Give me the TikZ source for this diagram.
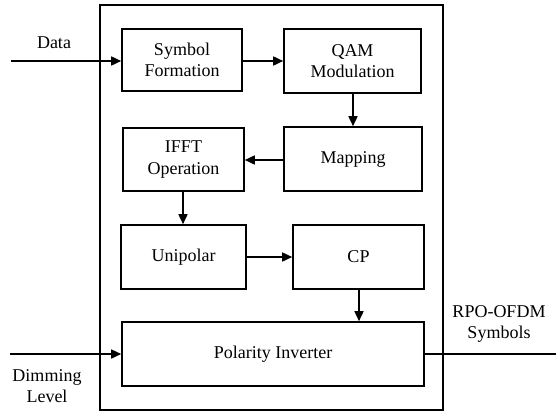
\documentclass[tikz,border=0pt]{standalone}
\usepackage{fontspec}
\setmainfont{Liberation Serif}
\usetikzlibrary{arrows.meta}
\begin{document}
\begin{tikzpicture}[x=1pt,y=-1pt,
  blk/.style={draw,line width=1.6pt,inner sep=0pt,align=center,font=\fontsize{18}{21.5}\selectfont},
  lbl/.style={align=center,inner sep=0pt,font=\fontsize{18}{21.5}\selectfont},
  arr/.style={line width=1.6pt,-{Triangle[length=10pt,width=9pt]}}]
\useasboundingbox (0,0) rectangle (556,412);
\clip (0,0) rectangle (556,412);
\node[draw,line width=1.6pt,minimum width=343pt,minimum height=405pt,inner sep=0pt] (outer) at (271.5,207.5) {};
\node[blk,minimum width=120pt,minimum height=62pt] (sym) at (182,60) {Symbol\\Formation};
\node[blk,minimum width=137pt,minimum height=64pt] (qam) at (352.5,61) {QAM\\Modulation};
\node[blk,minimum width=138pt,minimum height=64pt] (map) at (353,159) {Mapping};
\node[blk,minimum width=121pt,minimum height=63pt] (ifft) at (183.5,159.5) {IFFT\\Operation};
\node[blk,minimum width=125pt,minimum height=64pt] (uni) at (183.5,257) {Unipolar};
\node[blk,minimum width=131pt,minimum height=64pt] (cp) at (358.5,257) {CP};
\node[blk,minimum width=302pt,minimum height=64pt] (pol) at (273,354) {Polarity Inverter};
\coordinate (din) at (11,61);
\coordinate (dim) at (10,354);
\coordinate (out) at (566,354);
\node[lbl] (datal) at (54,43) {Data};
\node[lbl] (diml) at (47,386) {Dimming\\Level};
\node[lbl] (outl) at (499,324) {RPO-OFDM\\Symbols};
\draw[arr] (din) -- (din -| sym.west);
\draw[arr] (sym.east |- din) -- (qam.west |- din);
\draw[arr] (qam.south -| 353,0) -- (map.north -| 353,0);
\draw[arr] (map.west |- 0,160) -- (ifft.east |- 0,160);
\draw[arr] (ifft.south -| 183,0) -- (uni.north -| 183,0);
\draw[arr] (uni.east) -- (cp.west);
\draw[arr] (cp.south -| 359,0) -- (pol.north -| 359,0);
\draw[arr] (dim) -- (pol.west);
\draw[arr] (pol.east) -- (out);
\end{tikzpicture}
\end{document}
